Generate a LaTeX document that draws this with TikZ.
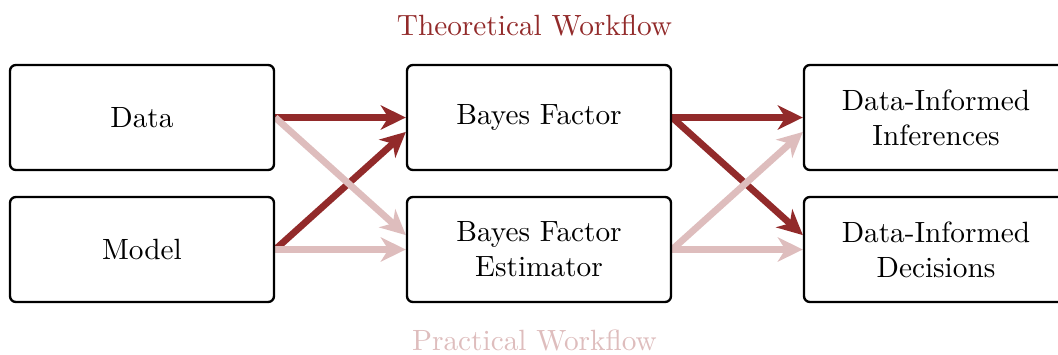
\documentclass[tikz,border=0pt]{standalone}
\usetikzlibrary{arrows.meta, backgrounds}
\definecolor{cdark}{HTML}{922A2A}
\definecolor{clight}{HTML}{DEBDBD}
\tikzset{
  box/.style={draw, rounded corners=2pt, align=center, line width=0.8pt, minimum width=3.168cm, minimum height=1.26cm},
  flow/.style={-{Stealth[length=3mm, width=2.9mm, inset=0.9mm]}, draw=#1, line width=2.3pt},
  flow/.default=cdark,
  title/.style={font=\normalsize},
}

\begin{document}
\begin{tikzpicture}
  \useasboundingbox (0,0) rectangle (12.696,4.248);
  \node[title, text=cdark] (theory) at (6.414, 3.948) {Theoretical Workflow};
  \node[title, text=clight] (practice) at (6.414, 0.16) {Practical Workflow};
  % three columns of boxes
  \foreach \name/\txt [count=\i] in {data/Data, bf/Bayes Factor, dii/{Data-Informed\\Inferences}} {
    \node[box] (\name) at (1.704 + 4.764*\i - 4.764, 2.838) {\txt};
  }
  \foreach \name/\txt [count=\i] in {model/Model, bfe/{Bayes Factor\\Estimator}, did/{Data-Informed\\Decisions}} {
    \node[box] (\name) at (1.704 + 4.764*\i - 4.764, 1.254) {\txt};
  }
  \begin{scope}[on background layer]
    \draw[flow] (data.east) -- (bf.west);
    \draw[flow] (model.east) -- ([yshift=-0.173cm]bf.west);
    \draw[flow] (bf.east) -- (dii.west);
    \draw[flow] (bf.east) -- ([yshift=0.173cm]did.west);
    \draw[flow=clight] (data.east) -- ([yshift=0.173cm]bfe.west);
    \draw[flow=clight] (model.east) -- (bfe.west);
    \draw[flow=clight] (bfe.east) -- ([yshift=-0.173cm]dii.west);
    \draw[flow=clight] (bfe.east) -- (did.west);
  \end{scope}
\end{tikzpicture}
\end{document}
